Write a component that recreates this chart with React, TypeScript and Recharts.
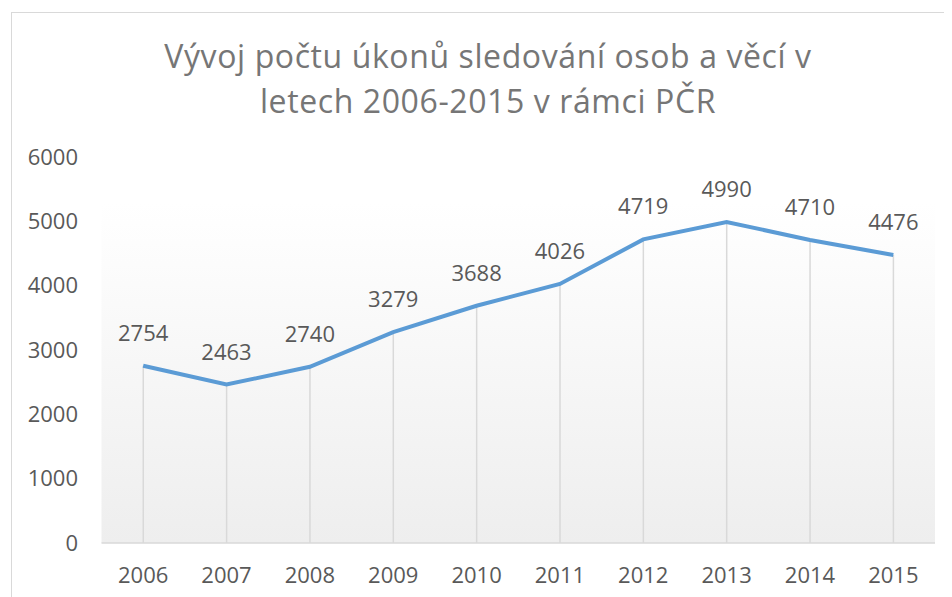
import React from "react";
import {
  ComposedChart,
  Line,
  Bar,
  XAxis,
  YAxis,
  CartesianGrid,
  LabelList,
} from "recharts";

const years = ["2006", "2007", "2008", "2009", "2010", "2011", "2012", "2013", "2014", "2015"];
const counts = [2754, 2463, 2740, 3279, 3688, 4026, 4719, 4990, 4710, 4476];
const yTicks = [0, 1000, 2000, 3000, 4000, 5000, 6000];
const titleLines = ["Vývoj počtu úkonů sledování osob a věcí v", "letech 2006-2015 v rámci PČR"];

const data = years.map((y, i) => ({ year: y, value: counts[i] }));

const FONT = "'Open Sans', 'Liberation Sans', sans-serif";
const TEXT = "#595959";

export default function App() {
  return (
    <div style={{ position: "relative", width: 944, height: 589, fontFamily: FONT }}>
      <div
        style={{
          position: "absolute",
          left: 3,
          top: 4,
          width: 960,
          height: 600,
          borderLeft: "1.5px solid #d9d9d9",
          borderTop: "1.5px solid #d9d9d9",
          boxSizing: "border-box",
        }}
      />
      <ComposedChart
        width={944}
        height={589}
        data={data}
        margin={{ top: 149, right: 17, bottom: 24, left: 0 }}
        style={{ position: "absolute", left: 0, top: 0 }}
      >
        <defs>
          <linearGradient id="plotBg" x1="0" y1="0" x2="0" y2="1">
            <stop offset="0%" stopColor="#ffffff" />
            <stop offset="12%" stopColor="#ffffff" />
            <stop offset="100%" stopColor="#eeeeee" />
          </linearGradient>
        </defs>
        <text
          x={480}
          y={60}
          textAnchor="middle"
          fill="#767676"
          fontSize={32}
          letterSpacing={0.6}
          fontFamily={FONT}
        >
          {titleLines[0]}
        </text>
        <text
          x={480}
          y={105}
          textAnchor="middle"
          fill="#767676"
          fontSize={32}
          letterSpacing={0.6}
          fontFamily={FONT}
        >
          {titleLines[1]}
        </text>
        <CartesianGrid
          horizontal={false}
          vertical={false}
          fill="url(#plotBg)"
          fillOpacity={1}
        />
        <XAxis
          dataKey="year"
          axisLine={{ stroke: "#d9d9d9", strokeWidth: 1.5 }}
          tickLine={false}
          tickSize={0}
          tickMargin={24}
          tick={{ fill: TEXT, fontSize: 22, fontFamily: FONT }}
          interval={0}
        />
        <YAxis
          width={93.5}
          domain={[0, 6000]}
          ticks={yTicks}
          axisLine={false}
          tickLine={false}
          tickSize={0}
          tickMargin={23.5}
          tick={{ fill: TEXT, fontSize: 22, fontFamily: FONT }}
          interval={0}
        />
        <Bar dataKey="value" barSize={1.5} fill="#d9d9d9" isAnimationActive={false} />
        <Line
          type="linear"
          dataKey="value"
          stroke="#5b9bd5"
          strokeWidth={4}
          dot={false}
          activeDot={false}
          isAnimationActive={false}
        >
          <LabelList
            dataKey="value"
            position="top"
            offset={25}
            fill={TEXT}
            fontSize={22}
            fontFamily={FONT}
          />
        </Line>
      </ComposedChart>
    </div>
  );
}
